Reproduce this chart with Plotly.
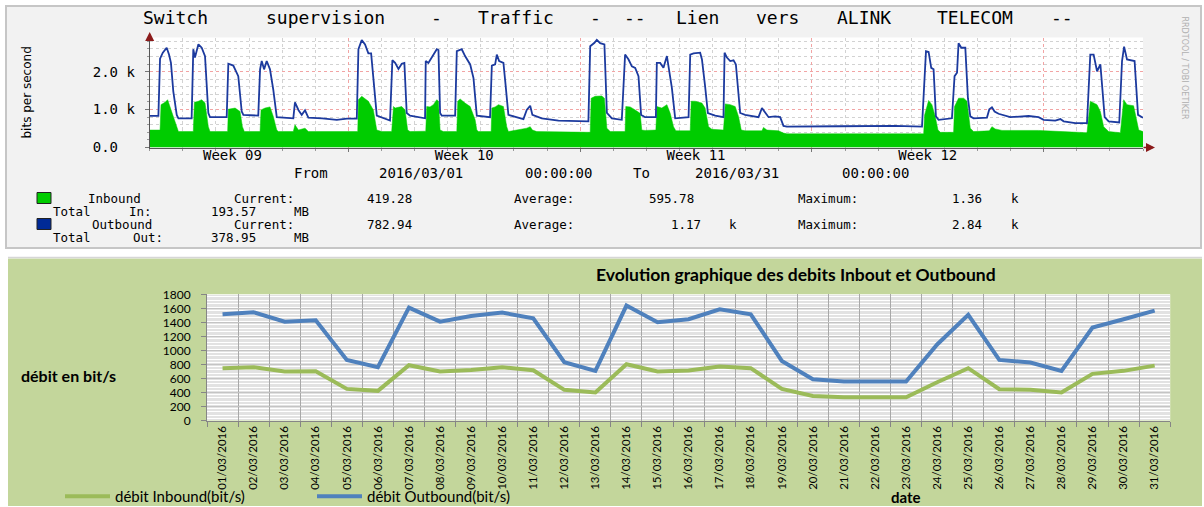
import plotly.graph_objects as go
import pandas as pd

# ------------------------------------------------------------------
# TOP PANEL (RRDtool graph) - hours since 2016-03-01 00:00, bits/s
# ------------------------------------------------------------------
out_hours = [0, 6.3, 7.5, 9.5, 12.3, 14.0, 15.4, 17.1, 19.6, 20.8,
             30.4, 31.6, 32.8, 35.3, 37.7, 40.1, 42.5, 43.7,
             55.8, 57.0, 60.6, 64.2, 66.7, 67.9,
             78.7, 80.0, 81.2, 82.9, 84.8, 87.2, 89.6, 92.1,
             104.1, 105.3, 107.8, 110.2, 112.6, 115, 125, 135.6, 143,
             150.1, 151.3, 153.7, 156.1, 158.5, 160.5, 162.1, 164.6,
             174.2, 175.9, 177.9, 180.3, 182.7, 184.6, 186.3, 188.7,
             199.6, 200.1, 202.0, 204.0, 205.6, 208.1, 209.3, 210.5, 211.7,
             221.4, 222.6, 226.2, 228.6, 232.3, 234.7, 237.1,
             246.7, 248.0, 250.4, 251.6, 253.3, 256.4, 257.6, 260.0,
             270.9, 273.3, 275.8, 277.4, 284.2, 296.3, 318.0,
             319.3, 322.4, 324.1, 326.5, 329.6, 331.4, 335.0,
             342.2, 344.6, 347.1, 349.5, 351.9, 354.3, 356.2, 359.1,
             366.9, 367.6, 370.0, 372.4, 374.9, 376.0, 378.5, 380.9,
             390.6, 391.8, 394.2, 399.0, 400.3, 402.6, 404.6, 409.9,
             415.9, 416.7, 418.4, 420.8, 423.2, 424.9, 428.0, 431.6,
             441.3, 443.8, 446.2, 448.6, 453.4, 457.0, 459.4, 461.9,
             500, 540.4, 559.8, 561.0, 562.7, 564.6, 566.5, 568.2, 569.9, 571.8,
             581.5, 583.4, 585.2, 586.3, 588.3, 591.2, 593.1, 594.8, 597.2,
             606.9, 608.6, 610.5, 612.4, 615.3, 623.8, 637.1, 644.3, 648.0,
             656.4, 660.1, 662.5, 670.9, 679.4,
             681.8, 684.2, 686.7, 689.1, 690.7, 692.2, 695.1, 702.8,
             704.8, 706.3, 708.4, 712.0, 713.9, 716.4, 719.3, 720]
out_bps = [835, 835, 2340, 2500, 2630, 2450, 2230, 1480, 860, 770,
           770, 2590, 2370, 2720, 2630, 2410, 910, 800,
           800, 2210, 2160, 1880, 950, 860,
           840, 2060, 2280, 2060, 2280, 2060, 1520, 800,
           770, 1190, 990, 860, 980, 790, 770, 730, 760,
           760, 2590, 2830, 2720, 2480, 2480, 1880, 840,
           710, 2300, 2230, 2070, 2210, 2230, 910, 840,
           770, 2280, 2230, 2340, 2450, 2590, 2570, 910, 840,
           840, 2540, 2590, 2410, 2190, 1830, 840,
           800, 2160, 2190, 2450, 2280, 2230, 1790, 860,
           750, 990, 1100, 860, 770, 710, 690,
           2670, 2760, 2840, 2750, 2720, 910, 770,
           730, 2450, 2320, 2140, 2100, 1880, 860, 800,
           800, 2230, 2230, 2100, 2410, 2140, 1570, 770,
           800, 2450, 2480, 2500, 2320, 1610, 910, 840,
           800, 2500, 2370, 2280, 2300, 2190, 910, 860,
           800, 1040, 910, 800, 820, 800, 570, 550,
           560, 570, 550, 1520, 2540, 2520, 2100, 2060, 820, 730,
           770, 1880, 1970, 2750, 2630, 2630, 1300, 820, 770,
           790, 1010, 1060, 950, 890, 800, 830, 800, 730,
           710, 750, 690, 640, 640,
           2450, 2450, 2010, 2190, 1480, 800, 690, 660,
           2280, 2660, 2320, 2300, 2280, 860, 800, 783]

in_hours = [0, 7.5, 8.2, 11.1, 13.0, 14.7, 17.1, 19.6, 20.8,
            31.6, 32.4, 35.3, 37.7, 40.1, 42.5, 43.7,
            56.5, 57.0, 61.9, 65.5, 67.2, 68.6,
            80.0, 80.7, 83.6, 87.2, 89.6, 92.1, 93.3,
            104.1, 105.3, 107.8, 112.6, 115,
            150.8, 151.3, 153.7, 158.5, 162.1, 164.6, 168.2,
            175.4, 176.7, 177.9, 182.7, 185.1, 187.0, 188.7,
            200.1, 200.8, 203.2, 205.6, 208.1, 209.3, 210.5, 212.9,
            222.6, 223.3, 225.0, 228.6, 232.3, 235.9, 237.1, 238.3,
            247.5, 248.0, 250.4, 252.8, 256.4, 258.8, 260.0,
            273.3, 275.8, 277.4, 280.6,
            319.3, 320.0, 322.9, 327.7, 329.6, 331.4, 333.8,
            344.6, 345.1, 348.3, 351.9, 355.5, 356.7, 359.1,
            366.9, 367.6, 371.2, 374.9, 377.3, 379.7, 381.4,
            391.8, 392.5, 395.4, 400.3, 402.6, 405.1, 407.5,
            415.9, 417.2, 420.8, 424.4, 426.8, 428.8, 431.6,
            443.8, 444.9, 447.4, 455.8, 459.4, 461.9, 500, 540.4,
            561.0, 561.7, 564.6, 567.0, 569.4, 571.4, 573.2,
            582.7, 583.4, 586.3, 590.0, 592.4, 594.8, 597.2,
            608.6, 610.5, 612.9, 617.8, 644.3, 661.3, 679.4,
            681.8, 684.2, 686.7, 689.1, 691.5, 695.1, 703.6,
            706.0, 708.4, 713.2, 715.6, 716.9, 720]
in_bps = [460, 460, 1130, 1190, 1260, 1080, 770, 550, 420,
          420, 1190, 1220, 1260, 1170, 550, 420,
          420, 1010, 1040, 950, 550, 420,
          420, 990, 1040, 1070, 820, 460, 420,
          420, 600, 460, 510, 420,
          420, 1260, 1350, 1220, 990, 460, 420,
          420, 1080, 1040, 1080, 990, 460, 420,
          430, 1080, 1070, 1130, 1260, 1220, 460, 420,
          420, 1220, 1280, 1170, 1080, 730, 460, 420,
          420, 1040, 1070, 1130, 1080, 550, 420,
          510, 550, 460, 420,
          400, 1300, 1350, 1360, 1300, 510, 420,
          420, 1080, 1070, 990, 900, 460, 450,
          460, 1080, 1040, 1130, 900, 550, 440,
          440, 1220, 1220, 1170, 1040, 550, 480,
          460, 1150, 1130, 1080, 820, 460, 440,
          440, 530, 460, 440, 380, 360, 360, 360,
          360, 860, 1240, 1130, 820, 460, 400,
          400, 1080, 1300, 1300, 1220, 510, 420,
          440, 550, 490, 450, 450, 420, 390,
          1220, 1170, 1130, 950, 550, 420, 390,
          1260, 1130, 1100, 640, 460, 419]

week_starts = ["2016-03-07", "2016-03-14", "2016-03-21", "2016-03-28"]
week_label_times = ["2016-03-03 12:00", "2016-03-10 12:00",
                    "2016-03-17 12:00", "2016-03-24 12:00"]
week_labels = ["Week 09", "Week 10", "Week 11", "Week 12"]
top_ytick_vals = [0, 1000, 2000]
top_ytick_text = ["0.0\u00a0\u00a0", "1.0 k", "2.0 k"]

# ------------------------------------------------------------------
# BOTTOM PANEL (Excel chart) - daily averages, bit/s
# ------------------------------------------------------------------
dates = ["01/03/2016", "02/03/2016", "03/03/2016", "04/03/2016", "05/03/2016",
         "06/03/2016", "07/03/2016", "08/03/2016", "09/03/2016", "10/03/2016",
         "11/03/2016", "12/03/2016", "13/03/2016", "14/03/2016", "15/03/2016",
         "16/03/2016", "17/03/2016", "18/03/2016", "19/03/2016", "20/03/2016",
         "21/03/2016", "22/03/2016", "23/03/2016", "24/03/2016", "25/03/2016",
         "26/03/2016", "27/03/2016", "28/03/2016", "29/03/2016", "30/03/2016",
         "31/03/2016"]
inbound_daily = [746, 760, 698, 703, 451, 423, 788, 698, 722, 760, 717, 437, 399,
                 802, 698, 712, 769, 746, 451, 351, 332, 332, 332, 545, 746,
                 446, 437, 399, 665, 708, 783]
outbound_daily = [1515, 1543, 1410, 1430, 864, 760, 1610, 1410, 1490, 1539, 1458,
                  831, 708, 1639, 1401, 1444, 1586, 1515, 850, 589, 556, 556, 556,
                  1085, 1506, 864, 826, 708, 1325, 1444, 1567]

# ------------------------------------------------------------------
W, H = 1204, 507


def fx(p):
    return p / W


def fy(p):
    return 1 - p / H


MONO = "DejaVu Sans Mono"
XL = "Lato"

base = pd.Timestamp("2016-03-01")
t_out = [base + pd.Timedelta(hours=h) for h in out_hours]
t_in = [base + pd.Timedelta(hours=h) for h in in_hours]
t_range = ["2016-03-01 00:00", "2016-03-31 00:00"]

fig = go.Figure()
fig.add_trace(go.Scatter(x=t_in, y=in_bps, mode="lines", xaxis="x", yaxis="y",
                         line=dict(color="#00cc00", width=0.5), fill="tozeroy",
                         fillcolor="#00cc00", showlegend=False, name="Inbound"))
fig.add_trace(go.Scatter(x=t_out, y=out_bps, mode="lines", xaxis="x2", yaxis="y",
                         line=dict(color="#1c3a9e", width=1.8), showlegend=False,
                         name="Outbound"))
fig.add_trace(go.Scatter(x=dates, y=inbound_daily, mode="lines", xaxis="x3", yaxis="y2",
                         line=dict(color="#9bbb59", width=4),
                         name="débit Inbound(bit/s)"))
fig.add_trace(go.Scatter(x=dates, y=outbound_daily, mode="lines", xaxis="x3", yaxis="y2",
                         line=dict(color="#4f81bd", width=4),
                         name="débit Outbound(bit/s)"))

grid_red = "#f2a4a4"
grid_gray = "#d2d2d2"

fig.update_layout(
    width=W, height=H, autosize=False,
    margin=dict(l=0, r=0, t=0, b=0, pad=0, autoexpand=False),
    paper_bgcolor="white", plot_bgcolor="white",
    xaxis=dict(domain=[fx(149.7), fx(1143)], anchor="y", type="date", range=t_range,
               tickmode="array", tickvals=week_starts, showticklabels=False,
               showgrid=True, gridcolor=grid_red, griddash="dot", gridwidth=1,
               ticks="outside", ticklen=3, tickcolor="#777",
               showline=True, linecolor="#555", linewidth=1, zeroline=False,
               minor=dict(tick0="2016-03-01", dtick=86400000, showgrid=True,
                          gridcolor=grid_gray, griddash="dot",
                          ticks="outside", ticklen=2, tickcolor="#999")),
    xaxis2=dict(overlaying="x", anchor="y", side="bottom", type="date", range=t_range,
                tickmode="array", tickvals=week_label_times, ticktext=week_labels,
                showgrid=False, ticks="", showline=False, zeroline=False,
                ticklabelstandoff=-3,
                tickfont=dict(family=MONO, size=14, color="#000")),
    yaxis=dict(domain=[fy(147.5), fy(37.5)], anchor="x", range=[0, 2900],
               tickmode="array", tickvals=top_ytick_vals, ticktext=top_ytick_text,
               showgrid=True, gridcolor=grid_red, griddash="dot",
               ticks="outside", ticklen=4, tickcolor="#777",
               showline=True, linecolor="#555", zeroline=False,
               tickfont=dict(family=MONO, size=14, color="#000"), ticklabelstandoff=7,
               minor=dict(dtick=200, tick0=0, showgrid=True, gridcolor=grid_gray,
                          griddash="dot", ticks="outside", ticklen=2, tickcolor="#999")),
    xaxis3=dict(domain=[fx(207), fx(1170.2)], anchor="y2", type="category",
                range=[-0.5, 30.5], tickmode="linear", tick0=0, dtick=1,
                tickson="boundaries", tickangle=-90,
                showgrid=True, gridcolor="#a8a8a8", gridwidth=1,
                ticks="outside", ticklen=5, tickcolor="#868686",
                showline=True, linecolor="#868686",
                tickfont=dict(family=XL, size=11.5, color="#000")),
    yaxis2=dict(domain=[fy(420.5), fy(294.3)], anchor="x3", range=[0, 1800],
                tick0=0, dtick=200, showgrid=True, gridcolor="#c4c4c4",
                ticks="outside", ticklen=5, tickcolor="#868686",
                showline=True, linecolor="#868686", zeroline=False,
                tickfont=dict(family=XL, size=12, color="#000"), ticklabelstandoff=8,
                minor=dict(dtick=20, tick0=0, showgrid=True, gridcolor="#e2e2e2",
                           gridwidth=1)),
    showlegend=True,
    legend=dict(orientation="h", x=fx(60), y=fy(496.5), xanchor="left",
                yanchor="middle", bgcolor="rgba(0,0,0,0)",
                font=dict(family=XL, size=15, color="#000"),
                itemwidth=45, entrywidth=192, entrywidthmode="pixels",
                tracegroupgap=0),
)

shapes = [
    dict(type="rect", xref="paper", yref="paper", x0=fx(6), x1=fx(1201),
         y0=fy(248), y1=fy(6), fillcolor="#f2f2f2",
         line=dict(color="#c6c6c6", width=2), layer="below"),
    dict(type="rect", xref="paper", yref="paper", x0=fx(8), x1=fx(1202),
         y0=fy(506), y1=fy(258.5), fillcolor="#c3d69b", line=dict(width=0),
         layer="below"),
    dict(type="line", xref="paper", yref="paper", x0=fx(8), x1=fx(1202),
         y0=fy(257.5), y1=fy(257.5), line=dict(color="#d6d6d6", width=1.5),
         layer="below"),
    dict(type="rect", xref="x domain", yref="y domain", x0=0, x1=1, y0=0, y1=1,
         fillcolor="white", line=dict(width=0), layer="below"),
    dict(type="rect", xref="x3 domain", yref="y2 domain", x0=0, x1=1, y0=0, y1=1,
         fillcolor="white", line=dict(width=0), layer="below"),
    # legend swatches of the RRDtool graph
    dict(type="rect", xref="paper", yref="paper", x0=fx(37), x1=fx(51),
         y0=fy(203.5), y1=fy(192.5), fillcolor="#00cc00",
         line=dict(color="#222", width=1)),
    dict(type="rect", xref="paper", yref="paper", x0=fx(37), x1=fx(51),
         y0=fy(229.5), y1=fy(218.5), fillcolor="#002a97",
         line=dict(color="#222", width=1)),
]

ann = []


def txt(s, cx, cy, size, family=MONO, color="#000", angle=0):
    ann.append(dict(text=s, x=fx(cx), y=fy(cy), xref="paper", yref="paper",
                    xanchor="center", yanchor="middle", showarrow=False,
                    textangle=angle, borderpad=0,
                    font=dict(family=family, size=size, color=color)))


# RRDtool title (monospaced, placed word by word as in the stretched original)
for w, cx in [("Switch", 175.5), ("supervision", 325.9), ("-", 436.7),
              ("Traffic", 515.8), ("-", 595), ("--", 634.6), ("Lien", 697.9),
              ("vers", 777), ("ALINK", 864.1), ("TELECOM", 974.9), ("--", 1062)]:
    txt(w, cx, 18, 18)

for w, cx in [("From", 310.5), ("2016/03/01", 420.7), ("00:00:00", 558.4),
              ("To", 641), ("2016/03/31", 737.4), ("00:00:00", 875)]:
    txt(w, cx, 173, 14)

legend_rows = [
    (198, [("Inbound", 114.5), ("Current:", 264), ("419.28", 389.5),
           ("Average:", 544), ("595.78", 671), ("Maximum:", 827.5),
           ("1.36", 967), ("k", 1015)]),
    (211, [("Total", 72), ("In:", 140.5), ("193.57", 233), ("MB", 301)]),
    (224, [("Outbound", 121.5), ("Current:", 264), ("782.94", 389.5),
           ("Average:", 544), ("1.17", 685.5), ("k", 733), ("Maximum:", 827.5),
           ("2.84", 967), ("k", 1015)]),
    (237.5, [("Total", 72), ("Out:", 147.5), ("378.95", 233), ("MB", 301)]),
]
for cy, items in legend_rows:
    for w, cx in items:
        txt(w, cx, cy, 12.5)

txt("bits per second", 27, 92.5, 12, family="DejaVu Sans", angle=-90)
txt("RRDTOOL / TOBI OETIKER", 1184.5, 68, 8, family="DejaVu Sans", color="#b0b0b0",
    angle=90)

# axis arrows of the RRDtool graph
ann.append(dict(x=fx(149.7), y=fy(32), xref="paper", yref="paper", text="",
                showarrow=True, ax=0, ay=7, arrowhead=2, arrowsize=1.2,
                arrowwidth=1.5, arrowcolor="#8b1a1a", standoff=0))
ann.append(dict(x=fx(1155), y=fy(147.5), xref="paper", yref="paper", text="",
                showarrow=True, ax=-13, ay=0, arrowhead=2, arrowsize=1.2,
                arrowwidth=1.5, arrowcolor="#8b1a1a", standoff=0))

# Excel chart texts
txt("<b>Evolution graphique des debits Inbout et Outbound</b>", 796, 274, 17.5, family=XL)
txt("<b>débit en bit/s</b>", 68, 375, 16, family=XL)
txt("<b>date</b>", 906, 497, 15, family=XL)

fig.update_layout(shapes=shapes, annotations=ann)
fig.write_html("out.html",
               config={"displayModeBar": False},
               post_script="document.body.style.margin='0';"
                           "document.body.style.overflow='hidden';")
